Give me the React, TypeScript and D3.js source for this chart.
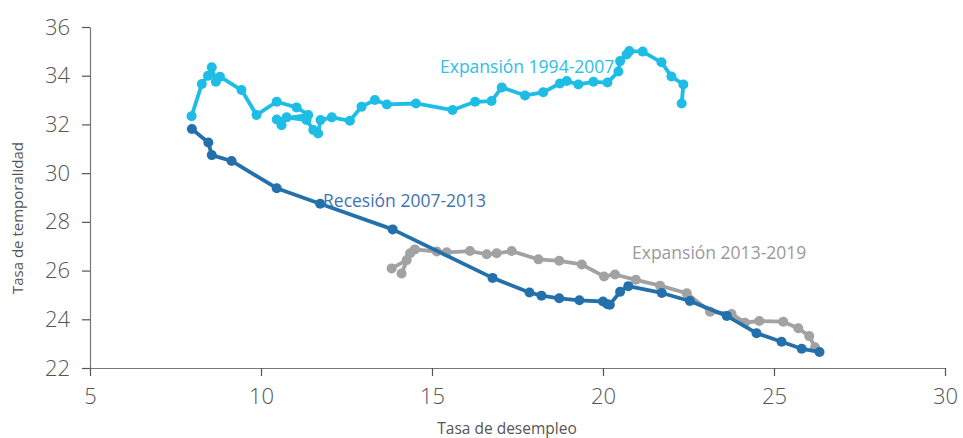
import {useEffect, useRef} from "react";
import * as d3 from "d3";

type Pt = [number, number];

// Tasa de desempleo (x), Tasa de temporalidad (y)
const expansion9407: Pt[] = [
  [22.30, 32.86], [22.35, 33.64], [22.00, 33.97], [21.71, 34.55], [21.16, 34.99],
  [20.77, 35.01], [20.69, 34.87], [20.50, 34.60], [20.45, 34.17], [20.13, 33.72],
  [19.72, 33.75], [19.28, 33.64], [18.94, 33.78], [18.74, 33.68], [18.25, 33.32],
  [17.72, 33.19], [17.04, 33.52], [16.74, 32.96], [16.26, 32.93], [15.60, 32.59],
  [14.53, 32.86], [13.68, 32.82], [13.33, 33.00], [12.94, 32.73], [12.60, 32.15],
  [12.07, 32.29], [11.74, 32.18], [11.67, 31.63], [11.53, 31.77], [11.33, 32.18],
  [10.75, 32.29], [10.60, 31.97], [10.46, 32.20], [11.38, 32.39], [11.04, 32.70],
  [10.46, 32.93], [9.87, 32.39], [9.43, 33.41], [8.80, 33.96], [8.68, 33.75],
  [8.56, 34.35], [8.45, 34.00], [8.27, 33.66], [7.97, 32.34],
];

const recesion0713: Pt[] = [
  [7.98, 31.81], [8.46, 31.26], [8.56, 30.74], [9.14, 30.50], [10.46, 29.38],
  [11.73, 28.74], [13.85, 27.69], [16.77, 25.70], [17.85, 25.10], [18.20, 24.97],
  [18.72, 24.86], [19.31, 24.78], [20.00, 24.73], [20.13, 24.62], [20.20, 24.60],
  [20.50, 25.13], [20.74, 25.36], [21.72, 25.08], [22.54, 24.75], [23.62, 24.14],
  [24.49, 23.43], [25.22, 23.08], [25.81, 22.79], [26.33, 22.66],
];

const expansion1319: Pt[] = [
  [26.20, 22.85], [26.03, 23.31], [25.71, 23.63], [25.27, 23.90], [24.57, 23.93],
  [24.15, 23.86], [23.76, 24.22], [23.13, 24.31], [22.45, 25.07], [21.67, 25.38],
  [20.96, 25.62], [20.35, 25.84], [20.03, 25.76], [19.38, 26.25], [18.72, 26.40],
  [18.11, 26.46], [17.33, 26.80], [16.89, 26.71], [16.60, 26.67], [16.11, 26.80],
  [15.43, 26.75], [15.14, 26.78], [14.50, 26.87], [14.36, 26.71], [14.11, 25.88],
  [14.26, 26.43], [13.82, 26.09],
];

const xTicks = [5, 10, 15, 20, 25, 30];
const yTicks = [22, 24, 26, 28, 30, 32, 34, 36];

const series = [
  {name: "Expansión 1994-2007", data: expansion9407, color: "#1dbde6", label: "#2cc0e8", lx: 440, ly: 73},
  {name: "Expansión 2013-2019", data: expansion1319, color: "#a2a2a2", label: "#9a9a9a", lx: 632, ly: 259},
  {name: "Recesión 2007-2013", data: recesion0713, color: "#2370ab", label: "#3f74b0", lx: 323, ly: 207},
];

export default function App() {
  const svgRef = useRef<SVGSVGElement | null>(null);

  useEffect(() => {
    const width = 963;
    const height = 438;
    const svg = d3.select(svgRef.current).attr("width", width).attr("height", height);
    svg.selectAll("*").remove();

    const x = d3.scaleLinear().domain([5, 30]).range([90, 945]);
    const y = d3.scaleLinear().domain([22, 36]).range([368, 27]);

    const font = "'Open Sans', Lato, sans-serif";

    // axes
    const xAxis = svg.append("g")
        .attr("transform", `translate(0,${y(22)})`)
        .call(d3.axisBottom(x).tickValues(xTicks).tickSize(8).tickPadding(12).tickSizeOuter(0));
    const yAxis = svg.append("g")
        .attr("transform", `translate(${x(5)},0)`)
        .call(d3.axisLeft(y).tickValues(yTicks).tickSize(8).tickPadding(12).tickSizeOuter(0));

    [xAxis, yAxis].forEach(a => {
      a.select(".domain").attr("stroke", "#777").attr("stroke-width", 1.2);
      a.selectAll(".tick line").attr("stroke", "#555").attr("stroke-width", 1.2);
      a.selectAll(".tick text")
          .attr("fill", "#555")
          .style("font-family", font)
          .style("font-size", "22px")
          .style("font-weight", 300);
    });

    svg.append("text")
        .attr("x", 507)
        .attr("y", 434)
        .attr("text-anchor", "middle")
        .attr("fill", "#555")
        .style("font-family", font)
        .style("font-size", "15.5px")
        .text("Tasa de desempleo");

    svg.append("text")
        .attr("transform", `translate(23,218) rotate(-90)`)
        .attr("text-anchor", "middle")
        .attr("fill", "#555")
        .style("font-family", font)
        .style("font-size", "15px")
        .text("Tasa de temporalidad");

    const line = d3.line<Pt>().x(d => x(d[0])).y(d => y(d[1]));

    series.forEach(s => {
      const g = svg.append("g");
      g.append("path")
          .datum(s.data)
          .attr("d", line)
          .attr("fill", "none")
          .attr("stroke", s.color)
          .attr("stroke-width", 3.8)
          .attr("stroke-linejoin", "round");
      g.selectAll("circle")
          .data(s.data)
          .enter().append("circle")
          .attr("cx", d => x(d[0]))
          .attr("cy", d => y(d[1]))
          .attr("r", 5)
          .attr("fill", s.color);
      svg.append("text")
          .attr("x", s.lx)
          .attr("y", s.ly)
          .attr("fill", s.label)
          .style("font-family", font)
          .style("font-size", "17.5px")
          .text(s.name);
    });
  }, []);

  return (
    <div style={{position: "fixed", left: 0, top: 0, background: "#fff"}}>
      <svg ref={svgRef} />
    </div>
  );
}
